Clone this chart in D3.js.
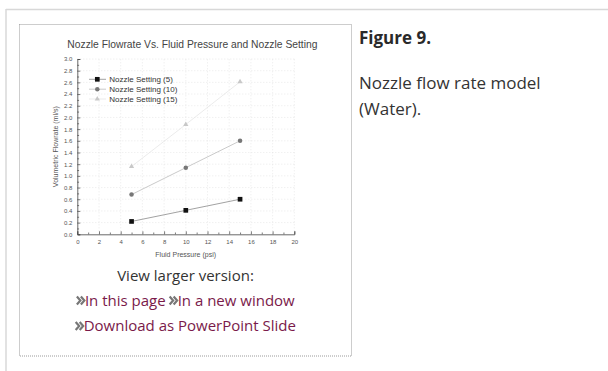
<!DOCTYPE html>
<html>
<head>
<meta charset="utf-8">
<script src="https://cdn.jsdelivr.net/npm/d3@7"></script>
<style>
  body { margin: 0; background: #fff; }
  svg { display: block; }
</style>
</head>
<body>
<svg width="608" height="371"></svg>
<script>
// data
var pressure = [5, 10, 15];
var setting5 = [0.22, 0.41, 0.60];
var setting10 = [0.68, 1.14, 1.60];
var setting15 = [1.16, 1.88, 2.61];
var seriesNames = ["Nozzle Setting (5)", "Nozzle Setting (10)", "Nozzle Setting (15)"];
var xTicks = [0, 2, 4, 6, 8, 10, 12, 14, 16, 18, 20];
var yTicks = d3.range(0, 31, 2).map(function(d) { return d / 10; });

var svg = d3.select("svg");

// page frame
svg.append("line").attr("x1", 6).attr("y1", 9.5).attr("x2", 608).attr("y2", 9.5)
    .style("stroke", "#d8d8d8").style("stroke-width", 1.5);
svg.append("line").attr("x1", 6).attr("y1", 9).attr("x2", 6).attr("y2", 371)
    .style("stroke", "#d8d8d8").style("stroke-width", 1.5);

// dotted figure box
svg.append("rect").attr("x", 19.5).attr("y", 24.5).attr("width", 332).attr("height", 331.5)
    .style("fill", "none").style("stroke", "#9a9a9a").style("stroke-dasharray", "1,1");

var x = d3.scaleLinear().domain([0, 20]).range([77.3, 294.3]),
    y = d3.scaleLinear().domain([0, 3]).range([234.3, 59]);

var g = svg.append("g").style("font-family", "'Liberation Sans', Arial, sans-serif");

// grid
g.selectAll(".hgrid").data(yTicks.slice(1)).enter().append("line")
    .attr("x1", x(0)).attr("x2", x(20))
    .attr("y1", function(d) { return y(d); }).attr("y2", function(d) { return y(d); })
    .style("stroke", "#dcdcdc").style("stroke-width", 0.6).style("stroke-dasharray", "1,2");
g.selectAll(".vgrid").data(xTicks.slice(1)).enter().append("line")
    .attr("y1", y(0)).attr("y2", y(3))
    .attr("x1", function(d) { return x(d); }).attr("x2", function(d) { return x(d); })
    .style("stroke", "#dcdcdc").style("stroke-width", 0.6).style("stroke-dasharray", "1,2");

// title
g.append("text").attr("x", 192.4).attr("y", 47.7).attr("text-anchor", "middle")
    .style("font-size", "10.3px").style("fill", "#444")
    .text("Nozzle Flowrate Vs. Fluid Pressure and Nozzle Setting");

// axes
var xAxis = g.append("g").attr("transform", "translate(0," + y(0) + ")")
    .call(d3.axisBottom(x).tickValues(xTicks).tickSize(-3).tickPadding(5).tickFormat(d3.format("d")));
xAxis.selectAll(".tick").data(d3.range(1, 20, 2)).enter();
g.append("g").attr("transform", "translate(0," + y(0) + ")")
    .call(d3.axisBottom(x).tickValues(d3.range(1, 20, 2)).tickSize(-1.8).tickFormat(""))
    .select(".domain").remove();

var yAxis = g.append("g").attr("transform", "translate(" + x(0) + ",0)")
    .call(d3.axisLeft(y).tickValues(yTicks).tickSize(-3).tickPadding(5).tickFormat(d3.format(".1f")));
g.append("g").attr("transform", "translate(" + x(0) + ",0)")
    .call(d3.axisLeft(y).tickValues(d3.range(1, 30, 2).map(function(d) { return d / 10; })).tickSize(-1.8).tickFormat(""))
    .select(".domain").remove();

g.selectAll(".domain").style("stroke", "#444").style("stroke-width", 0.8);
g.selectAll(".tick line").style("stroke", "#444").style("stroke-width", 0.7);
g.selectAll(".tick text").style("font-size", "6px").style("fill", "#555")
    .style("font-family", "'Liberation Sans', Arial, sans-serif");

g.append("text").attr("x", 185.7).attr("y", 256.5).attr("text-anchor", "middle")
    .style("font-size", "7px").style("fill", "#555").text("Fluid Pressure (psi)");
g.append("text").attr("transform", "translate(57.5,146.7) rotate(-90)").attr("text-anchor", "middle")
    .style("font-size", "7px").style("fill", "#555").text("Volumetric Flowrate (ml/s)");

// series
var series = [
    {name: seriesNames[0], values: setting5, line: "#8a8a8a", fill: "#111", shape: d3.symbolSquare, size: 22},
    {name: seriesNames[1], values: setting10, line: "#bdbdbd", fill: "#777", shape: d3.symbolCircle, size: 16},
    {name: seriesNames[2], values: setting15, line: "#e6e6e6", fill: "#c8c8c8", shape: d3.symbolTriangle, size: 12}
];

var line = d3.line()
    .x(function(d, i) { return x(pressure[i]); })
    .y(function(d) { return y(d); });

series.forEach(function(s) {
    g.append("path").attr("d", line(s.values))
        .style("fill", "none").style("stroke", s.line).style("stroke-width", 0.8);
});
series.forEach(function(s) {
    g.selectAll(null).data(s.values).enter().append("path")
        .attr("d", d3.symbol().type(s.shape).size(s.size))
        .attr("transform", function(d, i) { return "translate(" + x(pressure[i]) + "," + y(d) + ")"; })
        .style("fill", s.fill);
});

// legend
var legend = g.selectAll(".legend").data(series).enter().append("g")
    .attr("transform", function(d, i) { return "translate(0," + [79.3, 89.2, 99][i] + ")"; });
legend.append("line").attr("x1", 89).attr("x2", 106)
    .style("stroke", function(d) { return d.line; }).style("stroke-width", 0.8);
legend.append("path").attr("transform", "translate(97.3,0)")
    .attr("d", function(d) { return d3.symbol().type(d.shape).size(d.size)(); })
    .style("fill", function(d) { return d.fill; });
legend.append("text").attr("x", 109.3).attr("dy", "0.35em")
    .style("font-size", "8px").style("fill", "#333")
    .text(function(d) { return d.name; });

// caption on the right
var cap = svg.append("g").style("font-family", "'Open Sans', sans-serif");
cap.append("text").attr("x", 359).attr("y", 44).style("font-size", "17px")
    .style("font-weight", "bold").style("fill", "#2a2a2a").text("Figure 9.");
cap.append("text").attr("x", 359).attr("y", 88.5).style("font-size", "17px")
    .style("fill", "#333").text("Nozzle flow rate model");
cap.append("text").attr("x", 359).attr("y", 115).style("font-size", "17px")
    .style("fill", "#333").text("(Water).");

// view larger links
var links = svg.append("g").style("font-family", "'Open Sans', sans-serif").style("font-size", "15px");
links.append("text").attr("x", 185.5).attr("y", 280.7).attr("text-anchor", "middle")
    .style("fill", "#333").text("View larger version:");

var linkRows = [
    {y: 305.5, items: ["In this page", "In a new window"]},
    {y: 331, items: ["Download as PowerPoint Slide"]}
];
var iconW = 8;
linkRows.forEach(function(row) {
    var rg = links.append("g");
    var cx = 0;
    row.items.forEach(function(label, i) {
        if (i > 0) cx += 4;
        rg.append("path")
            .attr("d", "M" + cx + ",-9 l3.5,4 l-3.5,4 M" + (cx + 4) + ",-9 l3.5,4 l-3.5,4")
            .style("fill", "none").style("stroke", "#777").style("stroke-width", 2.2);
        cx += iconW;
        var t = rg.append("text").attr("x", cx).attr("y", 0).style("fill", "#7a1a4a").text(label);
        cx += t.node().getComputedTextLength();
    });
    rg.attr("transform", "translate(" + (185.8 - cx / 2) + "," + row.y + ")");
});
</script>
</body>
</html>
